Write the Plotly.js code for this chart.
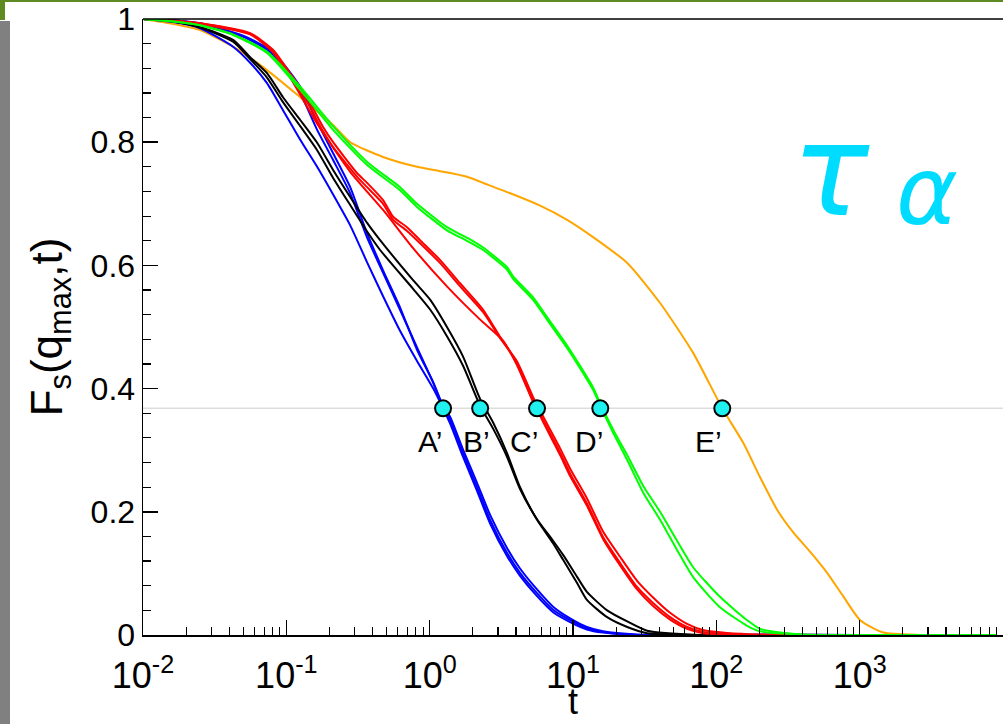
<!DOCTYPE html>
<html>
<head>
<meta charset="utf-8">
<script src="https://cdn.plot.ly/plotly-3.0.1.min.js"></script>
<style>
  html, body { margin: 0; padding: 0; background: #ffffff; }
  #wrap { position: relative; width: 1003px; height: 724px; overflow: hidden; }
  #chart { position: absolute; left: 0; top: 0; width: 1003px; height: 724px; }
  .deco { position: absolute; z-index: 5; }
</style>
</head>
<body>
<div id="wrap">
  <div id="chart"></div>
  <div class="deco" style="left:0;top:0;width:1003px;height:2px;background:#5f8a22;"></div>
  <div class="deco" style="left:0;top:0;width:5px;height:20px;background:#5f8a22;"></div>
  <div class="deco" style="left:0;top:21px;width:10px;height:703px;background:#808080;"></div>
</div>
<script>
// ---------------- data ----------------
const blue1T = [0.01, 0.0162, 0.025, 0.0425, 0.0559, 0.0733, 0.0948, 0.125, 0.164, 0.212, 0.279, 0.366, 0.473, 0.621, 0.816, 1.06, 1.24, 1.39, 1.71, 2.14, 2.64, 3.47, 4.27, 5.61, 7.26, 9.55, 12.5, 16.2, 28.0, 77, 300, 1000, 9000];
const blue1F = [1.0, 0.995, 0.985, 0.955, 0.929, 0.896, 0.852, 0.804, 0.760, 0.715, 0.665, 0.605, 0.550, 0.494, 0.445, 0.400, 0.368, 0.343, 0.289, 0.234, 0.181, 0.128, 0.096, 0.063, 0.037, 0.021, 0.009, 0.004, 0.0, 0.0, 0.001, 0.0, 0.0];

const blue2T = [0.01, 0.0162, 0.025, 0.0499, 0.0733, 0.0948, 0.125, 0.164, 0.212, 0.279, 0.366, 0.473, 0.621, 0.816, 1.06, 1.24, 1.39, 1.71, 2.14, 2.64, 3.47, 4.27, 5.61, 7.26, 9.55, 12.5, 16.2, 28.0, 77, 9000];
const blue2F = [1.0, 0.998, 0.992, 0.971, 0.950, 0.922, 0.880, 0.820, 0.771, 0.717, 0.645, 0.588, 0.528, 0.467, 0.409, 0.370, 0.349, 0.295, 0.240, 0.187, 0.133, 0.101, 0.068, 0.041, 0.024, 0.011, 0.005, 0.0, 0.0, 0.0];
const blue3F = [1.0, 0.998, 0.993, 0.973, 0.953, 0.928, 0.890, 0.833, 0.782, 0.727, 0.652, 0.592, 0.532, 0.463, 0.410, 0.372, 0.354, 0.301, 0.247, 0.195, 0.141, 0.108, 0.074, 0.046, 0.027, 0.013, 0.006, 0.001, 0.0, 0.0];

const blackT = [0.01, 0.0162, 0.025, 0.0425, 0.0559, 0.0733, 0.0948, 0.125, 0.164, 0.212, 0.279, 0.366, 0.451, 0.766, 1.01, 1.32, 1.71, 2.25, 2.77, 3.47, 4.27, 5.61, 7.26, 8.53, 10.7, 12.5, 17.3, 23.9, 32.9, 77, 9000];
const black1F = [1.0, 0.996, 0.987, 0.966, 0.938, 0.912, 0.873, 0.836, 0.799, 0.755, 0.711, 0.669, 0.641, 0.576, 0.544, 0.500, 0.452, 0.383, 0.345, 0.295, 0.240, 0.187, 0.149, 0.122, 0.084, 0.057, 0.029, 0.013, 0.003, 0.0, 0.0];
const black2F = [1.0, 0.996, 0.986, 0.963, 0.935, 0.905, 0.865, 0.826, 0.787, 0.742, 0.698, 0.655, 0.625, 0.562, 0.528, 0.485, 0.437, 0.372, 0.335, 0.289, 0.237, 0.188, 0.153, 0.130, 0.094, 0.070, 0.040, 0.022, 0.007, 0.0, 0.0];

const red1T = [0.01, 0.0162, 0.025, 0.0559, 0.0807, 0.106, 0.139, 0.180, 0.212, 0.311, 0.366, 0.473, 0.556, 0.695, 0.857, 1.18, 1.63, 2.36, 3.10, 4.07, 5.27, 5.61, 6.18, 8.13, 9.55, 12.5, 16.2, 21.3, 28.0, 36.2, 47.6, 62.5, 80.9, 172, 9000];
const red1F = [1.0, 0.997, 0.993, 0.977, 0.950, 0.912, 0.873, 0.825, 0.800, 0.750, 0.734, 0.706, 0.679, 0.662, 0.641, 0.609, 0.571, 0.528, 0.484, 0.441, 0.381, 0.368, 0.349, 0.296, 0.262, 0.214, 0.159, 0.117, 0.078, 0.052, 0.029, 0.013, 0.005, 0.001, 0.0];
const red3F = [1.0, 0.997, 0.992, 0.975, 0.946, 0.906, 0.866, 0.818, 0.792, 0.744, 0.727, 0.700, 0.674, 0.656, 0.636, 0.604, 0.566, 0.524, 0.482, 0.444, 0.386, 0.374, 0.355, 0.303, 0.270, 0.222, 0.168, 0.127, 0.088, 0.061, 0.036, 0.018, 0.008, 0.001, 0.0];

const red2T = [0.01, 0.0162, 0.025, 0.0559, 0.0807, 0.0948, 0.164, 0.279, 0.473, 0.766, 1.32, 2.25, 3.25, 4.07, 5.27, 5.61, 6.18, 8.13, 9.55, 12.5, 16.2, 21.3, 28.0, 36.2, 47.6, 62.5, 80.9, 172, 9000];
const red2F = [1.0, 0.997, 0.993, 0.976, 0.948, 0.925, 0.830, 0.752, 0.690, 0.628, 0.566, 0.512, 0.478, 0.438, 0.378, 0.366, 0.346, 0.292, 0.258, 0.210, 0.156, 0.113, 0.074, 0.047, 0.025, 0.010, 0.003, 0.0, 0.0];

const greenT = [0.01, 0.0162, 0.025, 0.0425, 0.0733, 0.125, 0.212, 0.366, 0.621, 0.816, 1.32, 1.82, 2.36, 3.47, 3.82, 5.27, 6.59, 9.09, 11.2, 13.8, 15.5, 19.1, 23.9, 30.9, 40.5, 53.2, 68.9, 106, 164, 202, 385, 9000];
const green1F = [1.0, 0.996, 0.990, 0.974, 0.945, 0.885, 0.820, 0.763, 0.722, 0.695, 0.657, 0.640, 0.625, 0.593, 0.578, 0.544, 0.512, 0.466, 0.433, 0.398, 0.372, 0.328, 0.284, 0.231, 0.187, 0.138, 0.094, 0.045, 0.015, 0.006, 0.001, 0.0];
const green2F = [1.0, 0.996, 0.990, 0.975, 0.947, 0.890, 0.826, 0.768, 0.727, 0.700, 0.662, 0.645, 0.629, 0.597, 0.582, 0.548, 0.516, 0.470, 0.437, 0.402, 0.376, 0.333, 0.292, 0.242, 0.200, 0.153, 0.110, 0.062, 0.024, 0.010, 0.001, 0.0];

const orangeT = [0.01, 0.0162, 0.025, 0.0425, 0.0733, 0.125, 0.212, 0.279, 0.473, 0.816, 1.18, 1.82, 2.95, 3.47, 5.89, 9.09, 13.8, 23.9, 40.5, 68.9, 110, 154, 202, 266, 343, 452, 593, 767, 1009, 1460, 2643, 9000];
const orangeF = [1.0, 0.992, 0.982, 0.955, 0.917, 0.873, 0.828, 0.800, 0.776, 0.760, 0.753, 0.744, 0.725, 0.719, 0.697, 0.674, 0.646, 0.604, 0.539, 0.458, 0.368, 0.312, 0.256, 0.203, 0.167, 0.135, 0.101, 0.063, 0.024, 0.004, 0.0, 0.0];

// tau_alpha points where F = 1/e
const tauLabels = ["A\u2019", "B\u2019", "C\u2019", "D\u2019", "E\u2019"];
const tauT = [1.24, 2.25, 5.61, 15.5, 110];
const invE = 0.3679;

const xTickVals = [0.01, 0.1, 1, 10, 100, 1000];
const xTickText = ["10<sup>-2</sup>", "10<sup>-1</sup>", "10<sup>0</sup>", "10<sup>1</sup>", "10<sup>2</sup>", "10<sup>3</sup>"];
const xTitle = "t";
const yTitle = "F<sub>s</sub>(q<sub>max</sub>,t)";

// ---------------- figure ----------------
function line(x, y, color) {
  return { type: "scatter", mode: "lines", x: x, y: y,
           line: { color: color, width: 2, shape: "spline", smoothing: 0.6 }, hoverinfo: "skip" };
}
const traces = [
  line(orangeT, orangeF, "#ffa500"),
  line(blue1T, blue1F, "#0000ff"),
  line(blue2T, blue2F, "#0000ff"),
  line(blue2T, blue3F, "#0000ff"),
  line(blackT, black1F, "#000000"),
  line(blackT, black2F, "#000000"),
  line(red1T, red1F, "#ff0000"),
  line(red2T, red2F, "#ff0000"),
  line(red1T, red3F, "#ff0000"),
  line(greenT, green1F, "#00ff00"),
  line(greenT, green2F, "#00ff00"),
  {
    type: "scatter", mode: "markers",
    x: tauT, y: tauT.map(() => invE),
    marker: { size: 16, color: "#1ff0f0", line: { color: "#000000", width: 2 } },
    hoverinfo: "skip"
  }
];

// minor tick positions for the log axis (2..9 in each decade)
const minorX = [];
for (let d = -2; d <= 3; d++) {
  for (let k = 2; k <= 9; k++) minorX.push(k * Math.pow(10, d));
}

const axisFont = "Liberation Sans, Arial, Helvetica, sans-serif";
const labelShift = [-13, -4, -13, -11, -14];
const annotations = tauLabels.map((s, i) => ({
  x: Math.log10(tauT[i]), y: invE, xref: "x", yref: "y",
  text: s, showarrow: false, xshift: labelShift[i], yshift: -33,
  font: { family: axisFont, size: 30, color: "#000000" }
}));
annotations.push({
  x: (834 - 143) / 860, y: (635 - 78) / 616, xref: "paper", yref: "paper",
  text: "\u03c4", showarrow: false, xshift: 38, yshift: -16,
  font: { family: "DejaVu Sans, sans-serif", size: 128, color: "#00dcff", style: "italic" }
});
annotations.push({
  x: (926 - 143) / 860, y: (635 - 120) / 616, xref: "paper", yref: "paper",
  text: "\u03b1", showarrow: false, xshift: 34, yshift: -15,
  font: { family: "DejaVu Sans, sans-serif", size: 94, color: "#00dcff", style: "italic" }
});
// x-axis title placed as an annotation below the tick labels
annotations.push({
  x: 0.5, y: (635 - 723) / 616, xref: "paper", yref: "paper", yanchor: "bottom",
  text: xTitle, showarrow: false, borderpad: 0,
  font: { family: axisFont, size: 36, color: "#000000" }
});

const layout = {
  width: 1003, height: 724,
  margin: { l: 143, r: 0, t: 19, b: 89, pad: 0 },
  paper_bgcolor: "#ffffff", plot_bgcolor: "#ffffff",
  showlegend: false,
  xaxis: {
    type: "log", range: [-2, 4],
    tickmode: "array", tickvals: xTickVals, ticktext: xTickText,
    ticks: "inside", ticklen: 15, tickwidth: 1.5, tickcolor: "#000000",
    ticklabelstandoff: 8,
    minor: { tickmode: "array", tickvals: minorX, ticks: "inside", ticklen: 8, tickwidth: 1.2, tickcolor: "#000000", showgrid: false },
    showline: true, linecolor: "#000000", linewidth: 1.5,
    showgrid: false, zeroline: false,
    tickfont: { family: axisFont, size: 36, color: "#000000" }
  },
  yaxis: {
    range: [0, 1], dtick: 0.2, tick0: 0,
    ticks: "inside", ticklen: 15, tickwidth: 1.5, tickcolor: "#000000",
    minor: { dtick: 0.04, ticks: "inside", ticklen: 8, tickwidth: 1.2, tickcolor: "#000000", showgrid: false },
    showline: true, linecolor: "#000000", linewidth: 1.5,
    showgrid: false, zeroline: false,
    tickfont: { family: axisFont, size: 32, color: "#000000" },
    title: { text: yTitle, font: { family: axisFont, size: 44, color: "#000000" }, standoff: 14 }
  },
  shapes: [
    { type: "line", xref: "paper", yref: "y", x0: 0, x1: 1, y0: invE, y1: invE, line: { color: "#dddddd", width: 1.5 }, layer: "below" },
    { type: "line", xref: "paper", yref: "paper", x0: 0, x1: 1, y0: 1, y1: 1, line: { color: "#000000", width: 1.5 } }
  ],
  annotations: annotations
};

Plotly.newPlot("chart", traces, layout, { staticPlot: true, displayModeBar: false });
</script>
</body>
</html>
